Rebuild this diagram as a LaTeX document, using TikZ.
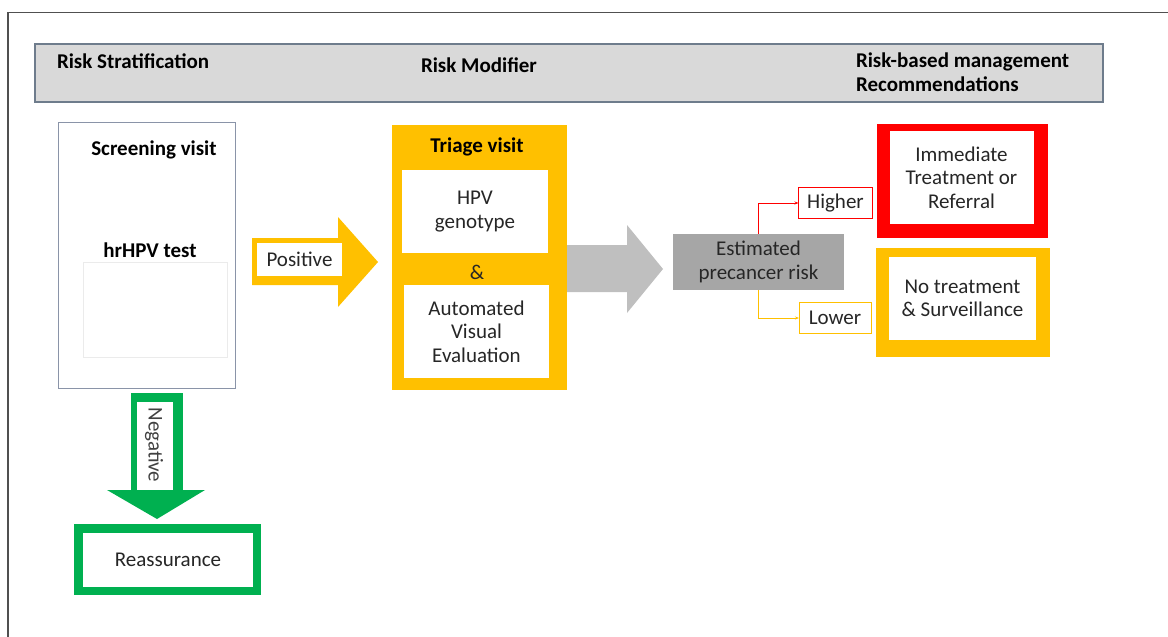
\documentclass[tikz,border=0pt]{standalone}
\usepackage{fontspec}
\setmainfont{Carlito}
\usetikzlibrary{arrows.meta}
\definecolor{yel}{HTML}{FFC000}
\definecolor{grn}{HTML}{00B050}
\definecolor{rd}{HTML}{FF0000}
\definecolor{hdr}{HTML}{D9D9D9}
\definecolor{hdrline}{HTML}{6E7C8C}
\definecolor{scrline}{HTML}{8A94A8}
\definecolor{garrow}{HTML}{BFBFBF}
\definecolor{estfill}{HTML}{A6A6A6}
\definecolor{txt}{HTML}{262626}
\definecolor{frame}{HTML}{505050}
\begin{document}
\begin{tikzpicture}[x=1pt,y=-1pt,
  font=\fontsize{21}{23.5}\selectfont,
  every node/.style={inner sep=0pt, outer sep=0pt, text=txt, align=center},
  bold/.style={font=\fontsize{21}{24}\selectfont\bfseries, text=black},
  outerbox/.style={fill=#1},
  tagbox/.style={draw=#1, line width=0.8pt, fill=white, minimum width=74pt, minimum height=31pt}
]
\useasboundingbox (0,0) rectangle (1168,637);
% frame
\draw[frame, line width=1.3pt] (7,12.5) -- (1168,12.5);
\draw[frame, line width=1.3pt] (8,12) -- (8,637);
% header
\draw[fill=hdr, draw=hdrline, line width=1.2pt] (35,44) rectangle (1103,102);
\node[bold, anchor=west] (h1) at (57,61) {Risk Stratification};
\node[bold, anchor=west] (h2) at (421,65) {Risk Modifier};
\node[bold, anchor=west, align=left] (h3) at (856,72) {Risk-based management\\Recommendations};
% screening box
\node[draw=scrline, line width=1pt, minimum width=177pt, minimum height=266pt] (scr) at (146.5,255) {};
\node[draw=black!8, line width=0.6pt, minimum width=144pt, minimum height=95pt] (inner) at (155,309.5) {};
\node[bold] (sv) at (154,150) {Screening visit};
\node[bold] (hr) at (150,250) {hrHPV test};
% positive arrow
\fill[yel] (252,238) -- (338,238) -- (338,217) -- (378,262) -- (338,307) -- (338,285) -- (252,285) -- cycle;
\node[fill=white, minimum width=85pt, minimum height=33pt] (pos) at (299.5,259.5) {Positive};
% triage
\node[outerbox=yel, minimum width=175pt, minimum height=265pt] (tri) at (479.5,257.5) {};
\node[bold, text=black] (tv) at (477,147) {Triage visit};
\node[fill=white, minimum width=146pt, minimum height=83pt] (geno) at (475,211.5) {HPV\\genotype};
\node (amp) at (477,272) {\&};
\node[fill=white, minimum width=145pt, minimum height=93pt] (ave) at (476.5,331.5) {Automated\\Visual\\Evaluation};
% gray arrow
\fill[garrow] (567,245) -- (627,245) -- (627,225) -- (663,269) -- (627,313) -- (627,292) -- (567,292) -- cycle;
% estimated
\node[fill=estfill, minimum width=171pt, minimum height=56pt] (est) at (758.5,262) {Estimated\\precancer risk};
\node[tagbox=rd] (hi) at (835.5,203) {Higher};
\node[tagbox=yel, minimum width=72pt] (lo) at (835,318) {Lower};
\draw[rd, line width=0.8pt, -{Stealth[length=4pt,width=3pt]}] (est.north) |- (hi.west);
\draw[yel, line width=0.8pt, -{Stealth[length=4pt,width=3pt]}] (est.south) |- (lo.west);
% outcome boxes
\node[outerbox=rd, minimum width=171pt, minimum height=114pt] (imo) at (962,180.5) {};
\node[fill=white, minimum width=144pt, minimum height=93pt] (imm) at (961.5,177.5) {Immediate\\Treatment or\\Referral};
\node[outerbox=yel, minimum width=174pt, minimum height=109pt] (noo) at (963,302.5) {};
\node[fill=white, minimum width=147pt, minimum height=83pt] (nt) at (962.5,298.5) {No treatment\\\& Surveillance};
% negative arrow
\fill[grn] (131,393) rectangle (183,490);
\fill[grn] (107,490) -- (205,490) -- (157,519) -- cycle;
\fill[white] (137,402) rectangle (173,490);
\node[rotate=-90, text=black!75] (neg) at (154,445) {Negative};
% reassurance
\node[outerbox=grn, minimum width=187pt, minimum height=71pt] (reo) at (167.5,559.5) {};
\node[fill=white, minimum width=170pt, minimum height=54pt] (re) at (168,560) {Reassurance};
\end{tikzpicture}
\end{document}
